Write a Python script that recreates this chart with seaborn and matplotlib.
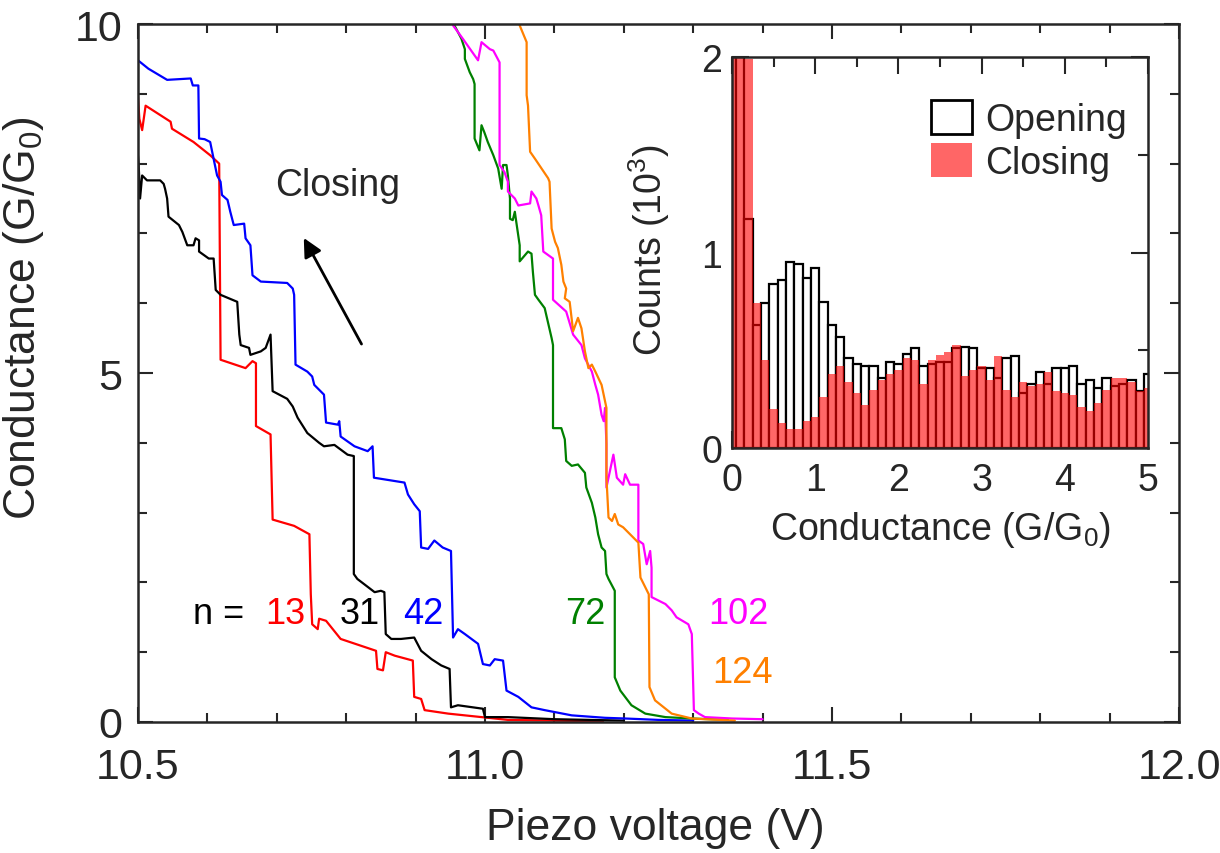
import numpy as np
import pandas as pd
import seaborn as sns
import matplotlib.pyplot as plt
from matplotlib.patches import Patch
from matplotlib.ticker import MultipleLocator

# ---- traces: piezo voltage (V) vs conductance (G/G0), one per n ----
red_v = [10.500, 10.502, 10.506, 10.511, 10.547, 10.549, 10.580, 10.604, 10.617, 10.619, 10.655, 10.665,
         10.670, 10.670, 10.691, 10.694, 10.725, 10.747, 10.749, 10.751, 10.759, 10.761, 10.771, 10.792,
         10.843, 10.845, 10.853, 10.857, 10.870, 10.896, 10.898, 10.908, 10.913, 10.947, 10.995, 11.033,
         11.100, 11.170]
red_g = [8.95, 8.64, 8.48, 8.83, 8.60, 8.50, 8.31, 8.12, 8.00, 5.19, 5.07, 5.17,
         5.14, 4.24, 4.12, 2.90, 2.81, 2.69, 1.83, 1.40, 1.33, 1.48, 1.45, 1.19,
         1.02, 0.76, 0.74, 1.00, 0.95, 0.88, 0.36, 0.33, 0.17, 0.12, 0.07, 0.03,
         0.02, 0.01]

black_v = [10.499, 10.501, 10.503, 10.506, 10.513, 10.532, 10.537, 10.539, 10.542, 10.544, 10.559, 10.564,
           10.571, 10.580, 10.583, 10.588, 10.588, 10.602, 10.609, 10.612, 10.619, 10.643, 10.646, 10.648,
           10.660, 10.662, 10.677, 10.684, 10.691, 10.694, 10.715, 10.723, 10.730, 10.744, 10.761, 10.768,
           10.783, 10.802, 10.811, 10.811, 10.816, 10.841, 10.850, 10.855, 10.857, 10.865, 10.879, 10.898,
           10.908, 10.923, 10.937, 10.949, 10.951, 10.961, 10.997, 11.000, 11.033, 11.100, 11.200]
black_g = [8.24, 7.98, 7.50, 7.83, 7.76, 7.76, 7.71, 7.64, 7.50, 7.24, 7.12, 7.02,
           6.83, 6.83, 6.93, 6.90, 6.74, 6.64, 6.64, 6.19, 6.12, 6.02, 5.55, 5.40,
           5.36, 5.26, 5.31, 5.36, 5.55, 4.74, 4.63, 4.52, 4.36, 4.14, 4.00, 3.95,
           3.97, 3.83, 3.81, 2.12, 2.05, 1.86, 1.88, 1.86, 1.26, 1.19, 1.19, 1.21,
           1.02, 0.90, 0.81, 0.76, 0.21, 0.24, 0.19, 0.07, 0.07, 0.04, 0.02]

blue_v = [10.500, 10.515, 10.542, 10.576, 10.579, 10.587, 10.588, 10.596, 10.602, 10.604, 10.610, 10.614,
          10.619, 10.621, 10.629, 10.633, 10.638, 10.653, 10.655, 10.662, 10.665, 10.677, 10.715, 10.723,
          10.725, 10.727, 10.744, 10.751, 10.754, 10.761, 10.768, 10.771, 10.788, 10.790, 10.792, 10.812,
          10.831, 10.838, 10.840, 10.884, 10.889, 10.898, 10.906, 10.908, 10.918, 10.927, 10.939, 10.951,
          10.954, 10.961, 10.971, 10.990, 10.997, 11.007, 11.014, 11.026, 11.031, 11.048, 11.067, 11.086,
          11.125, 11.173, 11.202, 11.250, 11.300]
blue_g = [9.48, 9.36, 9.20, 9.22, 9.12, 9.12, 8.36, 8.35, 8.32, 8.31, 8.02, 7.83,
          7.74, 7.55, 7.48, 7.31, 7.12, 7.14, 6.93, 6.83, 6.40, 6.31, 6.29, 6.21,
          6.12, 5.12, 5.02, 4.95, 4.83, 4.76, 4.69, 4.29, 4.26, 4.31, 4.09, 3.95,
          3.88, 3.95, 3.50, 3.43, 3.26, 3.12, 3.02, 2.50, 2.48, 2.60, 2.50, 2.45,
          1.21, 1.33, 1.26, 1.12, 0.83, 0.81, 0.90, 0.88, 0.45, 0.36, 0.21, 0.17,
          0.095, 0.06, 0.05, 0.03, 0.02]

green_v = [10.953, 10.956, 10.966, 10.971, 10.971, 10.978, 10.983, 10.985, 10.985, 10.992, 10.995, 10.999,
           11.004, 11.012, 11.019, 11.024, 11.026, 11.031, 11.033, 11.036, 11.036, 11.040, 11.043, 11.045,
           11.050, 11.050, 11.062, 11.067, 11.069, 11.072, 11.077, 11.086, 11.096, 11.098, 11.098, 11.110,
           11.115, 11.117, 11.125, 11.134, 11.144, 11.146, 11.154, 11.159, 11.163, 11.168, 11.173, 11.175,
           11.178, 11.187, 11.187, 11.195, 11.211, 11.231, 11.260, 11.298, 11.350]
green_g = [10.30, 9.98, 9.79, 9.64, 9.50, 9.31, 9.21, 9.14, 8.36, 8.19, 8.55, 8.45,
           8.31, 8.12, 7.93, 7.64, 7.98, 7.98, 7.83, 7.50, 7.21, 7.19, 7.31, 7.17,
           6.83, 6.60, 6.74, 6.71, 6.45, 6.12, 6.05, 5.93, 5.50, 5.40, 4.21, 4.21,
           4.05, 3.74, 3.67, 3.69, 3.57, 3.36, 3.14, 2.93, 2.69, 2.50, 2.45, 2.12,
           2.05, 1.88, 0.64, 0.45, 0.24, 0.12, 0.07, 0.05, 0.03]

magenta_v = [10.952, 10.954, 10.968, 10.990, 10.995, 11.007, 11.012, 11.021, 11.021, 11.028, 11.033, 11.033,
             11.043, 11.048, 11.065, 11.067, 11.074, 11.077, 11.081, 11.084, 11.098, 11.098, 11.117, 11.127,
             11.139, 11.144, 11.154, 11.159, 11.163, 11.168, 11.171, 11.173, 11.175, 11.175, 11.185, 11.190,
             11.199, 11.202, 11.209, 11.221, 11.221, 11.228, 11.233, 11.238, 11.240, 11.240, 11.260, 11.269,
             11.276, 11.293, 11.298, 11.301, 11.308, 11.317, 11.356, 11.400]
magenta_g = [10.30, 9.98, 9.79, 9.48, 9.74, 9.64, 9.62, 9.45, 7.98, 7.88, 7.74, 7.60,
             7.50, 7.40, 7.43, 7.60, 7.50, 7.40, 7.26, 6.74, 6.64, 6.05, 5.88, 5.55,
             5.40, 5.21, 5.02, 4.83, 4.69, 4.40, 4.31, 4.50, 3.98, 3.36, 3.83, 3.50,
             3.40, 3.55, 3.40, 3.40, 2.60, 2.55, 2.26, 2.45, 2.21, 1.79, 1.69, 1.60,
             1.50, 1.40, 1.26, 0.17, 0.12, 0.07, 0.05, 0.04]

orange_v = [11.049, 11.050, 11.060, 11.060, 11.062, 11.065, 11.072, 11.091, 11.093, 11.096, 11.101, 11.105,
            11.110, 11.113, 11.117, 11.115, 11.122, 11.127, 11.134, 11.139, 11.144, 11.149, 11.154, 11.159,
            11.168, 11.175, 11.175, 11.178, 11.183, 11.187, 11.192, 11.199, 11.216, 11.221, 11.224, 11.231,
            11.236, 11.237, 11.245, 11.269, 11.298, 11.317, 11.360]
orange_g = [10.30, 9.98, 9.74, 8.98, 8.83, 8.17, 8.07, 7.79, 7.74, 7.07, 6.88, 6.79,
            6.55, 6.31, 6.21, 6.07, 6.02, 5.60, 5.79, 5.64, 5.31, 5.07, 5.12, 5.02,
            4.83, 4.50, 3.50, 2.93, 2.88, 2.98, 2.83, 2.79, 2.62, 2.57, 2.07, 1.93,
            1.83, 0.50, 0.31, 0.12, 0.05, 0.04, 0.02]

n_labels = ["13", "31", "42", "72", "102", "124"]
trace_colors = ["#ff0000", "#000000", "#0000ff", "#008000", "#ff00ff", "#ff8000"]

# ---- inset histogram: bin centres (G/G0) and counts (10^3) ----
bin_centers = [round(0.1 * i, 1) for i in range(51)]
opening_counts = [2.50, 2.50, 1.17, 0.63, 0.74, 0.84, 0.86, 0.95, 0.94, 0.87, 0.92,
                  0.75, 0.63, 0.57, 0.46, 0.43, 0.42, 0.42, 0.36, 0.44, 0.43,
                  0.48, 0.51, 0.42, 0.43, 0.44, 0.44, 0.51, 0.52, 0.51, 0.41,
                  0.41, 0.36, 0.46, 0.47, 0.28, 0.33, 0.39, 0.33, 0.41, 0.41,
                  0.42, 0.33, 0.35, 0.31, 0.36, 0.32, 0.33, 0.35, 0.29, 0.38]
closing_counts = [2.50, 2.50, 1.99, 0.74, 0.45, 0.20, 0.13, 0.10, 0.10, 0.14, 0.16,
                  0.26, 0.38, 0.42, 0.34, 0.28, 0.22, 0.30, 0.35, 0.38, 0.40,
                  0.46, 0.45, 0.33, 0.45, 0.475, 0.49, 0.53, 0.37, 0.40, 0.42,
                  0.35, 0.47, 0.30, 0.26, 0.34, 0.32, 0.33, 0.39, 0.29, 0.28,
                  0.27, 0.21, 0.19, 0.23, 0.30, 0.36, 0.36, 0.34, 0.29, 0.31]

sns.set_style("ticks")
plt.rcParams['font.family'] = ['Liberation Sans', 'DejaVu Sans']
plt.rcParams['mathtext.fontset'] = 'custom'
plt.rcParams['mathtext.rm'] = 'Liberation Sans'
plt.rcParams['mathtext.default'] = 'regular'

fig = plt.figure(figsize=(12.2, 8.54), dpi=100)
ax = fig.add_axes([0.1131, 0.1534, 0.8533, 0.8173])

traces = [(red_v, red_g), (black_v, black_g), (blue_v, blue_g),
          (green_v, green_g), (magenta_v, magenta_g), (orange_v, orange_g)]
for (v, g), lab, col in zip(traces, n_labels, trace_colors):
    df = pd.DataFrame({'V': v, 'G': g})
    sns.lineplot(data=df, x='V', y='G', sort=False, estimator=None, color=col, lw=1.6, ax=ax)

ax.set_xlim(10.5, 12.0)
ax.set_ylim(0, 10)
ax.xaxis.set_major_locator(MultipleLocator(0.5))
ax.xaxis.set_minor_locator(MultipleLocator(0.1))
ax.yaxis.set_major_locator(MultipleLocator(5))
ax.yaxis.set_minor_locator(MultipleLocator(1))
ax.xaxis.set_major_formatter(plt.FormatStrFormatter('%.1f'))
ax.tick_params(which='both', direction='in', top=True, right=True, width=1.5, labelsize=31)
ax.tick_params(which='major', length=11)
ax.tick_params(which='minor', length=6.5)
ax.tick_params(axis='x', pad=18)
ax.tick_params(axis='y', pad=11)
for s in ax.spines.values():
    s.set_linewidth(1.8)
ax.set_xlabel('Piezo voltage (V)', fontsize=32)
ax.set_ylabel('Conductance (G/G$_0$)', fontsize=32)
ax.xaxis.set_label_coords(0.497, -0.122)
ax.yaxis.set_label_coords(-0.088, 0.58)

# n labels
ax.text(10.579, 1.56, 'n = ', fontsize=26, color='k', va='center', ha='left')
label_pos = [(10.683, 1.56), (10.791, 1.56), (10.882, 1.56), (11.115, 1.56), (11.321, 1.56), (11.327, 0.71)]
for (x, y), lab, col in zip(label_pos, n_labels, trace_colors):
    ax.text(x, y, lab, fontsize=26, color=col, va='center', ha='left')

ax.text(10.788, 7.70, 'Closing', fontsize=27, ha='center', va='center')
ax.annotate('', xy=(10.737, 6.97), xytext=(10.824, 5.38),
            arrowprops=dict(arrowstyle='-|>', color='k', lw=2, mutation_scale=28))

# inset
axi = fig.add_axes([0.6, 0.474, 0.341, 0.458])
axi.bar(bin_centers, opening_counts, width=0.1, facecolor='white', edgecolor='black', lw=1.6)
axi.bar(bin_centers, closing_counts, width=0.1, color='red', alpha=0.6, lw=0)
axi.set_xlim(0, 5)
axi.set_ylim(0, 2)
axi.xaxis.set_major_locator(MultipleLocator(1))
axi.xaxis.set_minor_locator(MultipleLocator(0.5))
axi.yaxis.set_major_locator(MultipleLocator(1))
axi.yaxis.set_minor_locator(MultipleLocator(0.5))
axi.tick_params(which='both', direction='in', top=True, right=True, width=1.5, labelsize=27)
axi.tick_params(which='major', length=12)
axi.tick_params(which='minor', length=7)
axi.tick_params(axis='x', pad=10)
axi.tick_params(axis='y', pad=7)
for s in axi.spines.values():
    s.set_linewidth(1.8)
axi.set_xlabel('Conductance (G/G$_0$)', fontsize=27)
axi.set_ylabel('Counts (10$^3$)', fontsize=27)
axi.xaxis.set_label_coords(0.5, -0.155)
axi.yaxis.set_label_coords(-0.144, 0.51)

handles = [Patch(facecolor='white', edgecolor='black', lw=2, label='Opening'),
           Patch(facecolor='red', alpha=0.6, lw=0, label='Closing')]
axi.legend(handles=handles, loc='upper right', bbox_to_anchor=(0.95, 0.89), frameon=False,
           fontsize=27, handlelength=1.1, handleheight=1.0, handletextpad=0.35,
           labelspacing=0.15, borderpad=0, borderaxespad=0)

fig.savefig('out.png', dpi=100)
